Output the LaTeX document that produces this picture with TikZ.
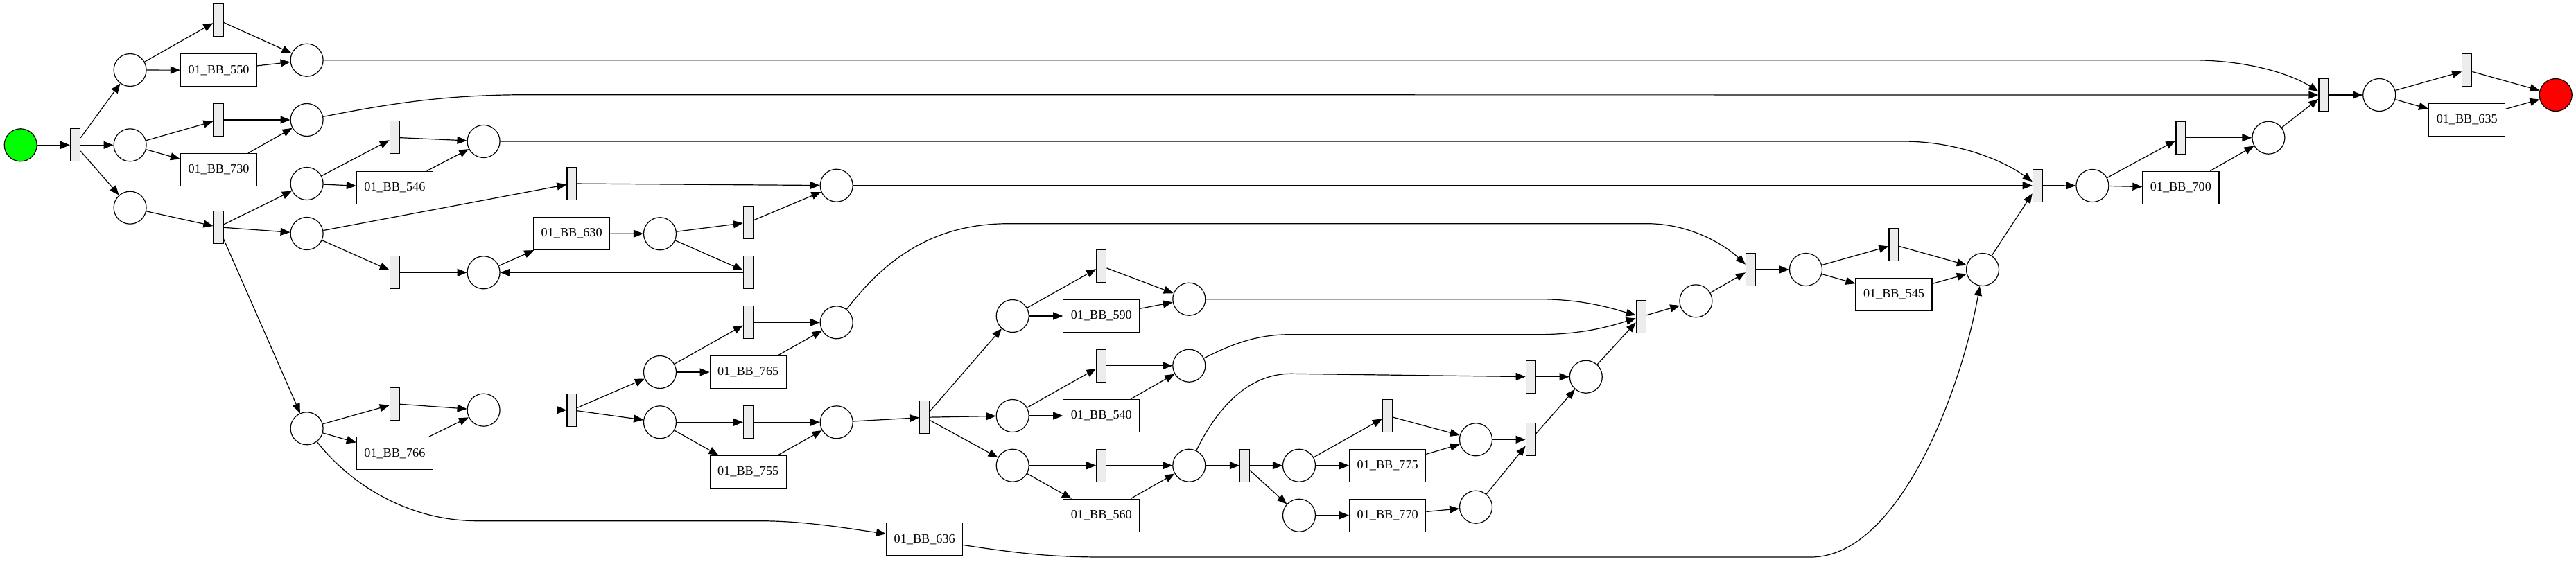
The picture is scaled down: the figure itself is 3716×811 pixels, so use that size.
\documentclass[tikz,border=0pt]{standalone}
\usepackage{fontspec}
\setmainfont{Liberation Serif}
\usetikzlibrary{arrows.meta}
\definecolor{tgray}{RGB}{236,236,236}
\definecolor{startgreen}{RGB}{0,255,0}
\definecolor{endred}{RGB}{255,0,0}
\tikzset{
  place/.style={circle, draw, line width=1.2pt, minimum size=47pt, inner sep=0pt},
  trans/.style={rectangle, draw, fill=tgray, line width=1.2pt, minimum width=14pt, minimum height=47pt, inner sep=0pt},
  act/.style={rectangle, draw, line width=1.2pt, minimum width=110pt, minimum height=47pt, inner sep=0pt, font=\fontsize{18.2}{22}\selectfont},
  arc/.style={-{Triangle[length=14pt,width=11pt]}, line width=1.2pt}
}
\begin{document}
\begin{tikzpicture}[x=1pt,y=-1pt]
\useasboundingbox (0,0) rectangle (3716,811);
% places
\node[place, fill=startgreen] (start) at (29.7,209.3) {};
\node[place] (p1) at (187.6,101) {};
\node[place] (p2) at (187.6,209.3) {};
\node[place] (p3) at (187.6,299.7) {};
\node[place] (p4) at (442.6,86.7) {};
\node[place] (p5) at (442.6,173) {};
\node[place] (p6) at (697.6,204) {};
\node[place] (p7) at (442.6,265) {};
\node[place] (p8) at (442.6,337) {};
\node[place] (p9) at (697.6,393.3) {};
\node[place] (p10) at (442.6,618.3) {};
\node[place] (p11) at (697.6,591.7) {};
\node[place] (p12) at (1206.7,267.7) {};
\node[place] (p13) at (952,337.3) {};
\node[place] (p14) at (1206.7,465.3) {};
\node[place] (p15) at (952,537) {};
\node[place] (p15b) at (952,609.3) {};
\node[place] (p33) at (1206.7,609.3) {};
\node[place] (p16) at (1460.7,456) {};
\node[place] (p17) at (1715.3,431.7) {};
\node[place] (p18) at (1715.3,527.7) {};
\node[place] (p19) at (1460.7,600) {};
\node[place] (p20) at (1460.7,671.7) {};
\node[place] (p21) at (1715.3,671.7) {};
\node[place] (p22) at (1874,671.7) {};
\node[place] (p23) at (1874,743.7) {};
\node[place] (p25) at (2129,634.3) {};
\node[place] (p26) at (2129,731.7) {};
\node[place] (p24) at (2287.8,543.7) {};
\node[place] (p27) at (2446.4,434.3) {};
\node[place] (p28) at (2605,389) {};
\node[place] (p30) at (2860,389) {};
\node[place] (p29) at (3018.4,268) {};
\node[place] (p32) at (3272.4,198.7) {};
\node[place] (p31) at (3432.2,137) {};
\node[place, fill=endred] (end) at (3686.7,137) {};
% silent transitions
\node[trans] (t0) at (108.6,209.3) {};
\node[trans] (ta) at (315,29) {};
\node[trans] (tb) at (315,173) {};
\node[trans] (tsplit) at (315,327.7) {};
\node[trans] (tc) at (569.4,198.3) {};
\node[trans] (td) at (569.4,393.3) {};
\node[trans] (te) at (569.4,582.7) {};
\node[trans] (tf) at (825,265) {};
\node[trans] (tj) at (825,591.7) {};
\node[trans] (tg) at (1079.4,321) {};
\node[trans] (th) at (1079.4,393.3) {};
\node[trans] (ti) at (1079.4,465.3) {};
\node[trans] (tx) at (1079.4,609.3) {};
\node[trans] (tsplitb) at (1333.7,602.3) {};
\node[trans] (tk) at (1588.8,384) {};
\node[trans] (tl) at (1588.8,527.7) {};
\node[trans] (tm) at (1588.8,671.7) {};
\node[trans] (tsplitc) at (1795.4,671.7) {};
\node[trans] (tn) at (2001.5,600) {};
\node[trans] (to) at (2208.2,543.7) {};
\node[trans] (tp) at (2208.2,634.3) {};
\node[trans] (tq) at (2367.3,457) {};
\node[trans] (tr) at (2525.5,389) {};
\node[trans] (ts) at (2732,353.3) {};
\node[trans] (tu) at (2939.3,267.7) {};
\node[trans] (tw) at (3145.9,198.7) {};
\node[trans] (tt) at (3352,137) {};
\node[trans] (tv) at (3558.7,101.3) {};
% visible transitions
\node[act] (BB550) at (315.5,101.3) {01\_BB\_550};
\node[act] (BB730) at (315.5,245) {01\_BB\_730};
\node[act] (BB546) at (569.4,270.7) {01\_BB\_546};
\node[act] (BB766) at (569.4,654.3) {01\_BB\_766};
\node[act] (BB630) at (824.7,337) {01\_BB\_630};
\node[act] (BB765) at (1079.2,537) {01\_BB\_765};
\node[act] (BB755) at (1079.2,681) {01\_BB\_755};
\node[act] (BB636) at (1333.7,778.3) {01\_BB\_636};
\node[act] (BB590) at (1588.8,456) {01\_BB\_590};
\node[act] (BB540) at (1588.8,600) {01\_BB\_540};
\node[act] (BB560) at (1588.8,743.7) {01\_BB\_560};
\node[act] (BB775) at (2001.7,671.7) {01\_BB\_775};
\node[act] (BB770) at (2001.7,743.7) {01\_BB\_770};
\node[act] (BB545) at (2732,425) {01\_BB\_545};
\node[act] (BB700) at (3145.9,270.7) {01\_BB\_700};
\node[act] (BB635) at (3558.7,173) {01\_BB\_635};
% straight arcs
\foreach \a/\b in {start/t0, t0/p1, t0/p2, t0/p3,
  p1/ta, p1/BB550, ta/p4, BB550/p4,
  p2/tb, p2/BB730, tb/p5, BB730/p5,
  p3/tsplit, tsplit/p7, tsplit/p8, tsplit/p10,
  p7/tc, p7/BB546, tc/p6, BB546/p6,
  p8/tf, p8/td, td/p9, p9/BB630, BB630/p13, p13/tg, p13/th, th/p9,
  tg/p12, tf/p12,
  p10/te, p10/BB766, te/p11, BB766/p11, p11/tj,
  tj/p15, tj/p15b, p15/ti, p15/BB765, ti/p14, BB765/p14,
  p15b/tx, p15b/BB755, tx/p33, BB755/p33, p33/tsplitb,
  tsplitb/p16, tsplitb/p19, tsplitb/p20,
  p16/tk, p16/BB590, tk/p17, BB590/p17,
  p19/tl, p19/BB540, tl/p18, BB540/p18,
  p20/tm, p20/BB560, tm/p21, BB560/p21,
  p21/tsplitc, tsplitc/p22, tsplitc/p23,
  p22/tn, p22/BB775, tn/p25, BB775/p25,
  p23/BB770, BB770/p26, p25/tp, p26/tp,
  tp/p24, to/p24, p24/tq, tq/p27, p27/tr, tr/p28,
  p28/ts, p28/BB545, ts/p30, BB545/p30,
  p30/tu, p12/tu, tu/p29,
  p29/tw, p29/BB700, tw/p32, BB700/p32, p32/tt, tt/p31,
  p31/tv, p31/BB635, tv/end, BB635/end}
  \draw[arc] (\a) -- (\b);
% curved arcs
\draw[arc] (p4) -- (3160,86.7) .. controls (3250,86.7) and (3310,110) .. (tt);
\draw[arc] (p5) .. controls (560,150) and (640,136.7) .. (760,136.7) -- (tt);
\draw[arc] (p6) -- (2744,204) .. controls (2830,204) and (2895,235) .. (tu);
\draw[arc] (p14) .. controls (1280,370) and (1350,322.7) .. (1455,322.7) -- (2376,322.7) .. controls (2440,322.7) and (2490,355) .. (tr);
\draw[arc] (p17) -- (2219,431.7) .. controls (2285,431.7) and (2325,445) .. (tq);
\draw[arc] (p18) .. controls (1780,495) and (1815,482.7) .. (1862,482.7) -- (2219,482.7) .. controls (2285,482.7) and (2325,470) .. (tq);
\draw[arc] (p21) .. controls (1755,590) and (1800,539.3) .. (1862,539.3) -- (to);
\draw[arc] (p10) .. controls (490,680) and (570,751.7) .. (690,751.7) -- (1096,751.7) .. controls (1160,751.7) and (1220,762) .. (BB636);
\draw[arc] (BB636) .. controls (1460,797) and (1510,804) .. (1590,804) -- (2612,804) .. controls (2740,804) and (2830,560) .. (p30);
\end{tikzpicture}
\end{document}
